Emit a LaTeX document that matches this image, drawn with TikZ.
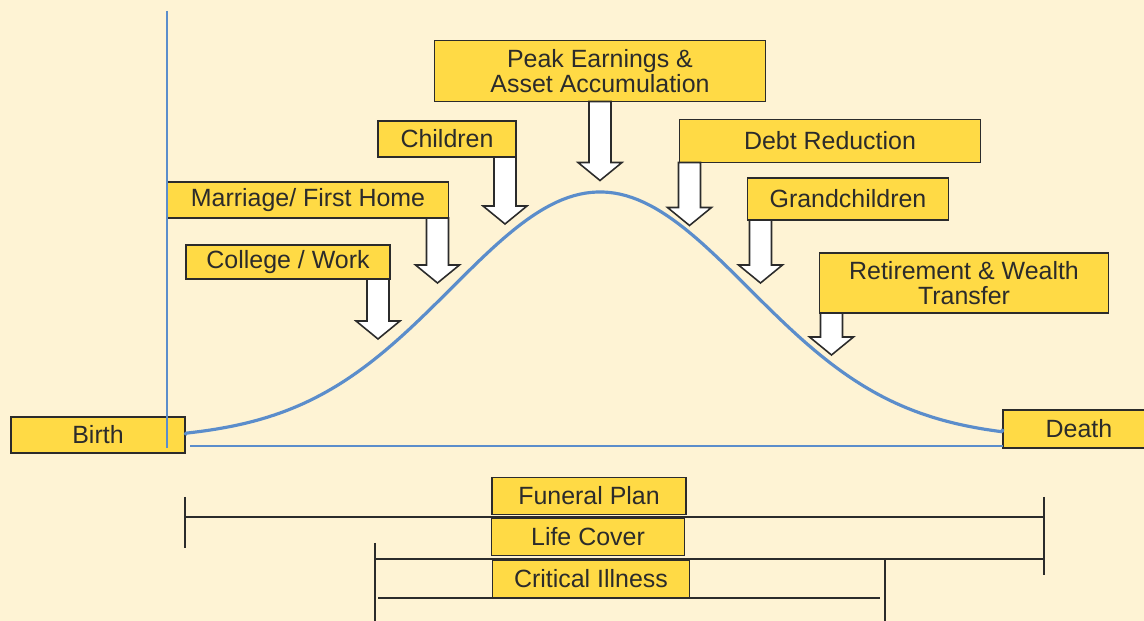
\documentclass[tikz,border=0pt]{standalone}
\usepackage{fontspec}
\setmainfont{Liberation Sans}
\usetikzlibrary{positioning,calc}
\definecolor{paper}{HTML}{FEF3D4}
\definecolor{boxyellow}{HTML}{FFDA45}
\definecolor{curveblue}{HTML}{5B8DCB}
\definecolor{inkgray}{HTML}{2B2B2B}
\tikzstyle{stage}=[draw=inkgray, line width=0.9pt, fill=boxyellow, text=inkgray, inner sep=0pt, outer sep=0pt, align=center, font=\fontsize{14.2}{14.2}\selectfont]
\tikzstyle{bigarrow}=[draw=inkgray, line width=0.9pt, fill=white, line join=miter]
\tikzstyle{cover}=[draw=inkgray, line width=0.9pt]
\tikzstyle{axis}=[draw=curveblue, line width=0.8pt]

\begin{document}
\begin{tikzpicture}[x=0.02cm, y=-0.02cm]

  \def\px{0.02cm};

  \fill[paper] (0,0) rectangle (1144,621);
  \useasboundingbox (0,0) rectangle (1144,621);

  % cover bars
  \draw[cover] (185,517) -- (1044,517);
  \draw[cover] (185,497) -- (185,548);
  \draw[cover] (1044,497) -- (1044,575);
  \draw[cover] (375,559) -- (1044,559);
  \draw[cover] (375,543) -- (375,621);
  \draw[cover] (378,598) -- (880,598);
  \draw[cover] (885,559) -- (885,621);

  % life stages
  \foreach \name/\x/\y/\w/\h/\txt in {birth/98/435/174/36/Birth, death/1079/429/152/38/Death,
      peak/600/71/331/61/{Peak Earnings \&\\Asset Accumulation}, children/447/139/138/36/Children,
      debt/830/141/301/43/{Debt Reduction}, grand/848/199/201/42/Grandchildren,
      marriage/308/200/281/36/{Marriage/ First Home}, college/288/262/204/34/{College / Work},
      retire/964/283/289/60/{Retirement \& Wealth\\Transfer}}
    \node[stage, minimum width=\w*\px, minimum height=\h*\px] (\name) at (\x,\y) {\txt};

  % products
  \foreach \name/\x/\y/\w/\txt in {funeral/589/496/194/{Funeral Plan}, life/588/537/193/{Life Cover},
      critical/591/579/197/{Critical Illness}}
    \node[stage, minimum width=\w*\px, minimum height=37*\px] (\name) at (\x,\y) {\txt};

  % arrows down to the curve
  \foreach \name/\anc/\dx/\len in {peak/south/0/61, children/south east/-11/49, marriage/south east/-11/47,
      college/south east/-12/42, debt/south west/10/45, grand/south west/13/45, retire/south west/12/24}
    \draw[bigarrow] ($(\name.\anc)+(\dx,0)$) ++(-11,0) -- ++(0,\len) -- ++(-11,0) -- ++(22,18)
        -- ++(22,-18) -- ++(-11,0) -- ++(0,-\len) -- cycle;

  % axes
  \draw[axis] (167,11) -- (167,448);
  \draw[axis] (190,446) -- (death.south west |- 0,446);

  % wealth curve
  \draw[curveblue, line width=1.8pt, line join=round] (birth.east) -- plot[domain=186:1002, samples=140]
      (\x, {445 - 241*exp(-((\x-600)/100)^2/4.3808) - 12*exp(-((\x-600)/100)^2/32)}) -- (death.west);

\end{tikzpicture}
\end{document}
